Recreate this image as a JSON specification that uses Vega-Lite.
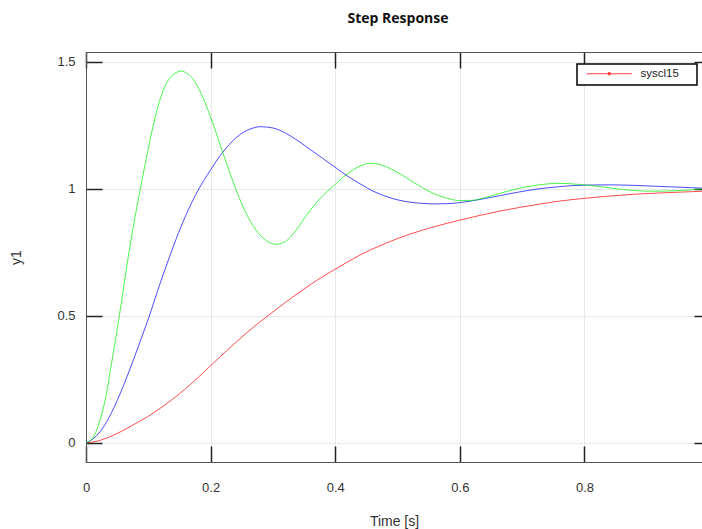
{
  "$schema": "https://vega.github.io/schema/vega-lite/v6.json",
  "width": 616,
  "height": 410,
  "autosize": {"type": "none"},
  "padding": {"left": 86, "top": 52, "right": 0, "bottom": 67},
  "background": "white",
  "title": {"text": "Step Response", "font": "Open Sans", "fontSize": 14, "fontWeight": "bold", "color": "#111", "anchor": "middle", "offset": 25, "dx": 4},
  "config": {
    "view": {"stroke": null},
    "axis": {"labelFont": "Liberation Sans", "labelFontSize": 13, "labelColor": "#333", "labelFlush": false, "titleFont": "Liberation Sans", "titleFontSize": 14, "titleFontWeight": "normal", "titleColor": "#333", "domainColor": "#555", "tickColor": "#222", "tickWidth": 1.5, "gridColor": "#e8e8e8", "gridWidth": 1},
    "legend": {"strokeColor": "#000", "strokeWidth": 1.5, "fillColor": "white", "cornerRadius": 0, "padding": 4}
  },
  "data": {"values": [
    {"t": 0, "y": 0, "s": "syscl15"},
    {"t": 0.016, "y": 0.006, "s": "syscl15"},
    {"t": 0.032, "y": 0.018, "s": "syscl15"},
    {"t": 0.048, "y": 0.035, "s": "syscl15"},
    {"t": 0.064, "y": 0.055, "s": "syscl15"},
    {"t": 0.08, "y": 0.077, "s": "syscl15"},
    {"t": 0.1, "y": 0.105, "s": "syscl15"},
    {"t": 0.12, "y": 0.138, "s": "syscl15"},
    {"t": 0.14, "y": 0.174, "s": "syscl15"},
    {"t": 0.16, "y": 0.214, "s": "syscl15"},
    {"t": 0.18, "y": 0.258, "s": "syscl15"},
    {"t": 0.2, "y": 0.304, "s": "syscl15"},
    {"t": 0.22, "y": 0.35, "s": "syscl15"},
    {"t": 0.24, "y": 0.395, "s": "syscl15"},
    {"t": 0.26, "y": 0.438, "s": "syscl15"},
    {"t": 0.28, "y": 0.478, "s": "syscl15"},
    {"t": 0.3, "y": 0.516, "s": "syscl15"},
    {"t": 0.32, "y": 0.553, "s": "syscl15"},
    {"t": 0.34, "y": 0.589, "s": "syscl15"},
    {"t": 0.36, "y": 0.623, "s": "syscl15"},
    {"t": 0.38, "y": 0.655, "s": "syscl15"},
    {"t": 0.4, "y": 0.684, "s": "syscl15"},
    {"t": 0.44, "y": 0.74, "s": "syscl15"},
    {"t": 0.48, "y": 0.785, "s": "syscl15"},
    {"t": 0.52, "y": 0.822, "s": "syscl15"},
    {"t": 0.56, "y": 0.852, "s": "syscl15"},
    {"t": 0.6, "y": 0.877, "s": "syscl15"},
    {"t": 0.64, "y": 0.9, "s": "syscl15"},
    {"t": 0.68, "y": 0.92, "s": "syscl15"},
    {"t": 0.72, "y": 0.937, "s": "syscl15"},
    {"t": 0.76, "y": 0.952, "s": "syscl15"},
    {"t": 0.8, "y": 0.963, "s": "syscl15"},
    {"t": 0.84, "y": 0.972, "s": "syscl15"},
    {"t": 0.88, "y": 0.979, "s": "syscl15"},
    {"t": 0.92, "y": 0.984, "s": "syscl15"},
    {"t": 0.96, "y": 0.988, "s": "syscl15"},
    {"t": 0.99, "y": 0.991, "s": "syscl15"},
    {"t": 0, "y": 0, "s": "sysB"},
    {"t": 0.016, "y": 0.026, "s": "sysB"},
    {"t": 0.03, "y": 0.07, "s": "sysB"},
    {"t": 0.045, "y": 0.14, "s": "sysB"},
    {"t": 0.06, "y": 0.225, "s": "sysB"},
    {"t": 0.075, "y": 0.32, "s": "sysB"},
    {"t": 0.09, "y": 0.42, "s": "sysB"},
    {"t": 0.1017, "y": 0.5, "s": "sysB"},
    {"t": 0.115, "y": 0.6, "s": "sysB"},
    {"t": 0.13, "y": 0.705, "s": "sysB"},
    {"t": 0.145, "y": 0.805, "s": "sysB"},
    {"t": 0.16, "y": 0.895, "s": "sysB"},
    {"t": 0.18, "y": 0.995, "s": "sysB"},
    {"t": 0.2, "y": 1.075, "s": "sysB"},
    {"t": 0.214, "y": 1.127, "s": "sysB"},
    {"t": 0.23, "y": 1.175, "s": "sysB"},
    {"t": 0.245, "y": 1.21, "s": "sysB"},
    {"t": 0.26, "y": 1.232, "s": "sysB"},
    {"t": 0.28, "y": 1.245, "s": "sysB"},
    {"t": 0.3, "y": 1.24, "s": "sysB"},
    {"t": 0.32, "y": 1.22, "s": "sysB"},
    {"t": 0.34, "y": 1.19, "s": "sysB"},
    {"t": 0.36, "y": 1.155, "s": "sysB"},
    {"t": 0.38, "y": 1.12, "s": "sysB"},
    {"t": 0.4, "y": 1.085, "s": "sysB"},
    {"t": 0.42, "y": 1.05, "s": "sysB"},
    {"t": 0.44, "y": 1.02, "s": "sysB"},
    {"t": 0.46, "y": 0.992, "s": "sysB"},
    {"t": 0.48, "y": 0.972, "s": "sysB"},
    {"t": 0.5, "y": 0.957, "s": "sysB"},
    {"t": 0.52, "y": 0.948, "s": "sysB"},
    {"t": 0.54, "y": 0.943, "s": "sysB"},
    {"t": 0.56, "y": 0.941, "s": "sysB"},
    {"t": 0.58, "y": 0.942, "s": "sysB"},
    {"t": 0.6, "y": 0.946, "s": "sysB"},
    {"t": 0.64, "y": 0.962, "s": "sysB"},
    {"t": 0.68, "y": 0.981, "s": "sysB"},
    {"t": 0.72, "y": 0.998, "s": "sysB"},
    {"t": 0.76, "y": 1.009, "s": "sysB"},
    {"t": 0.8, "y": 1.015, "s": "sysB"},
    {"t": 0.84, "y": 1.016, "s": "sysB"},
    {"t": 0.88, "y": 1.014, "s": "sysB"},
    {"t": 0.92, "y": 1.01, "s": "sysB"},
    {"t": 0.96, "y": 1.006, "s": "sysB"},
    {"t": 0.99, "y": 1.003, "s": "sysB"},
    {"t": 0, "y": 0, "s": "sysG"},
    {"t": 0.011, "y": 0.02, "s": "sysG"},
    {"t": 0.02, "y": 0.07, "s": "sysG"},
    {"t": 0.027, "y": 0.13, "s": "sysG"},
    {"t": 0.034, "y": 0.21, "s": "sysG"},
    {"t": 0.04, "y": 0.3, "s": "sysG"},
    {"t": 0.047, "y": 0.4, "s": "sysG"},
    {"t": 0.0535, "y": 0.5, "s": "sysG"},
    {"t": 0.0615, "y": 0.63, "s": "sysG"},
    {"t": 0.0696, "y": 0.76, "s": "sysG"},
    {"t": 0.078, "y": 0.88, "s": "sysG"},
    {"t": 0.0872, "y": 1.0, "s": "sysG"},
    {"t": 0.099, "y": 1.147, "s": "sysG"},
    {"t": 0.108, "y": 1.25, "s": "sysG"},
    {"t": 0.1177, "y": 1.343, "s": "sysG"},
    {"t": 0.126, "y": 1.4, "s": "sysG"},
    {"t": 0.134, "y": 1.435, "s": "sysG"},
    {"t": 0.143, "y": 1.455, "s": "sysG"},
    {"t": 0.1525, "y": 1.464, "s": "sysG"},
    {"t": 0.162, "y": 1.455, "s": "sysG"},
    {"t": 0.171, "y": 1.435, "s": "sysG"},
    {"t": 0.179, "y": 1.405, "s": "sysG"},
    {"t": 0.187, "y": 1.363, "s": "sysG"},
    {"t": 0.195, "y": 1.315, "s": "sysG"},
    {"t": 0.203, "y": 1.262, "s": "sysG"},
    {"t": 0.211, "y": 1.205, "s": "sysG"},
    {"t": 0.219, "y": 1.147, "s": "sysG"},
    {"t": 0.23, "y": 1.07, "s": "sysG"},
    {"t": 0.241, "y": 0.996, "s": "sysG"},
    {"t": 0.252, "y": 0.93, "s": "sysG"},
    {"t": 0.264, "y": 0.872, "s": "sysG"},
    {"t": 0.276, "y": 0.828, "s": "sysG"},
    {"t": 0.29, "y": 0.795, "s": "sysG"},
    {"t": 0.3055, "y": 0.782, "s": "sysG"},
    {"t": 0.32, "y": 0.793, "s": "sysG"},
    {"t": 0.335, "y": 0.83, "s": "sysG"},
    {"t": 0.355, "y": 0.9, "s": "sysG"},
    {"t": 0.375, "y": 0.96, "s": "sysG"},
    {"t": 0.4, "y": 1.018, "s": "sysG"},
    {"t": 0.42, "y": 1.06, "s": "sysG"},
    {"t": 0.44, "y": 1.09, "s": "sysG"},
    {"t": 0.456, "y": 1.101, "s": "sysG"},
    {"t": 0.47, "y": 1.097, "s": "sysG"},
    {"t": 0.49, "y": 1.078, "s": "sysG"},
    {"t": 0.505, "y": 1.058, "s": "sysG"},
    {"t": 0.52, "y": 1.035, "s": "sysG"},
    {"t": 0.54, "y": 1.005, "s": "sysG"},
    {"t": 0.558, "y": 0.982, "s": "sysG"},
    {"t": 0.58, "y": 0.963, "s": "sysG"},
    {"t": 0.6, "y": 0.954, "s": "sysG"},
    {"t": 0.62, "y": 0.955, "s": "sysG"},
    {"t": 0.64, "y": 0.966, "s": "sysG"},
    {"t": 0.665, "y": 0.983, "s": "sysG"},
    {"t": 0.7, "y": 1.005, "s": "sysG"},
    {"t": 0.73, "y": 1.017, "s": "sysG"},
    {"t": 0.76, "y": 1.022, "s": "sysG"},
    {"t": 0.79, "y": 1.018, "s": "sysG"},
    {"t": 0.8255, "y": 1.009, "s": "sysG"},
    {"t": 0.86, "y": 0.998, "s": "sysG"},
    {"t": 0.906, "y": 0.991, "s": "sysG"},
    {"t": 0.95, "y": 0.993, "s": "sysG"},
    {"t": 0.99, "y": 1.0, "s": "sysG"}
  ]},
  "layer": [
    {
      "mark": {"type": "line", "strokeWidth": 1, "opacity": 0.7, "interpolate": "monotone", "clip": true},
      "encoding": {
        "x": {"field": "t", "type": "quantitative", "scale": {"domain": [0, 0.9887], "nice": false, "zero": false},
          "axis": {"orient": "bottom", "title": "Time [s]", "values": [0, 0.2, 0.4, 0.6, 0.8], "format": "~g", "tickSize": -16, "labelPadding": 35, "titlePadding": 20, "grid": true}},
        "y": {"field": "y", "type": "quantitative", "scale": {"domain": [-0.075, 1.539], "nice": false, "zero": false},
          "axis": {"orient": "left", "title": "y1", "values": [0, 0.5, 1, 1.5], "format": "~g", "tickSize": -16, "labelPadding": 27, "titlePadding": 33, "grid": true}},
        "color": {"field": "s", "type": "nominal",
          "scale": {"domain": ["syscl15", "sysB", "sysG"], "range": ["#ff0000", "#0000ff", "#00ee00"]},
          "legend": {"values": ["syscl15"], "title": ".", "titleOrient": "right", "titleColor": "white", "titleOpacity": 0, "titleFontSize": 13, "titlePadding": 10, "orient": "none", "legendX": 491, "legendY": 12,
            "symbolType": "M-8,0H1M-3.22,0A0.28,0.28,0,1,1,-3.78,0A0.28,0.28,0,1,1,-3.22,0", "symbolSize": 100, "symbolStrokeWidth": 1, "symbolFillColor": "#ff0000", "symbolOpacity": 0.75, "symbolOffset": 40,
            "labelFont": "Liberation Sans", "labelFontSize": 11.5, "labelColor": "#222", "labelOffset": 8}}
      }
    },
    {
      "mark": {"type": "point", "opacity": 0},
      "encoding": {
        "x": {"field": "t", "type": "quantitative", "axis": {"orient": "top", "title": null, "values": [0, 0.2, 0.4, 0.6, 0.8], "labels": false, "tickSize": -16, "grid": false}},
        "y": {"field": "y", "type": "quantitative", "axis": {"orient": "right", "title": null, "values": [0, 0.5, 1, 1.5], "labels": false, "tickSize": -17, "offset": 9, "grid": false}}
      }
    }
  ],
  "resolve": {"axis": {"x": "independent", "y": "independent"}}
}
